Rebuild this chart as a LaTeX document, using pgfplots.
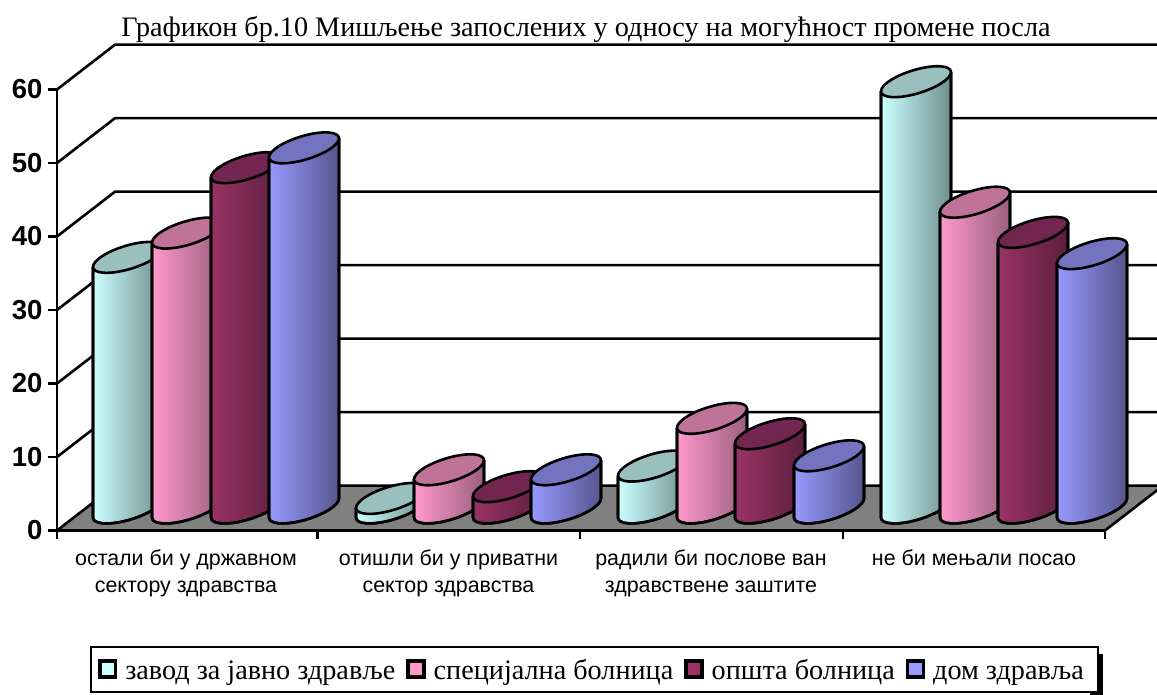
\documentclass[border=0pt]{standalone}
\usepackage{pgfplots}
\usepackage{pgfplotstable}
\pgfplotsset{compat=1.18}
\usepackage{fontspec}
\setmainfont{Liberation Serif}
\newfontfamily\arial{Liberation Sans}

\definecolor{tealL}{HTML}{CCFFFF}\definecolor{tealR}{HTML}{6F8E8E}\definecolor{tealT}{HTML}{99BFBF}
\definecolor{pinkL}{HTML}{FF99CC}\definecolor{pinkR}{HTML}{9A5F7E}\definecolor{pinkT}{HTML}{BF7399}
\definecolor{marL}{HTML}{993366}\definecolor{marR}{HTML}{5C1F3D}\definecolor{marT}{HTML}{732650}
\definecolor{bluL}{HTML}{9999FF}\definecolor{bluR}{HTML}{55558E}\definecolor{bluT}{HTML}{7373BF}

\pgfplotstableread{
x v
128 34.1
391 1.3
653 5.7
916 58.0
}\seriesA
\pgfplotstableread{
x v
187 37.4
449 5.2
712 12.2
975 41.6
}\seriesB
\pgfplotstableread{
x v
246 46.3
508 2.9
770 10.1
1033 37.5
}\seriesC
\pgfplotstableread{
x v
304 49.0
566 5.2
829 7.1
1092 34.6
}\seriesD

\pgfdeclareplotmark{nothing}{}
\newcommand\bodypath{%
  (-35pt,-9.5pt+\Yt) -- (-35pt,-9.5pt+\Yb)
  .. controls (-35pt,-16.24pt+\Yb) and (-19.33pt,-17.45pt+\Yb) .. (0pt,-12.2pt+\Yb)
  .. controls (19.33pt,-6.95pt+\Yb) and (35pt,2.76pt+\Yb) .. (35pt,9.5pt+\Yb)
  -- (35pt,9.5pt+\Yt)}
\newcommand\drawcyl[3]{%
  \pgfmathsetlengthmacro\Yt{22.5pt}%
  \pgfmathsetlengthmacro\Yb{22.5pt-\val*7.35pt}%
  \begin{scope}[line width=2.6pt,line join=round]
    \shade[left color=#1,right color=#2] \bodypath -- cycle;
    \draw \bodypath;
    \filldraw[fill=#3] (35pt,9.5pt+\Yt)
      .. controls (35pt,16.24pt+\Yt) and (19.33pt,17.45pt+\Yt) .. (0pt,12.2pt+\Yt)
      .. controls (-19.33pt,6.95pt+\Yt) and (-35pt,-2.76pt+\Yt) .. (-35pt,-9.5pt+\Yt)
      .. controls (-35pt,-16.24pt+\Yt) and (-19.33pt,-17.45pt+\Yt) .. (0pt,-12.2pt+\Yt)
      .. controls (19.33pt,-6.95pt+\Yt) and (35pt,2.76pt+\Yt) .. (35pt,9.5pt+\Yt) -- cycle;
  \end{scope}}

\pgfplotsset{cyl/.style n args={3}{only marks,mark=nothing,scatter,forget plot,
  visualization depends on=rawy \as \val,
  scatter/@pre marker code/.code={\drawcyl{#1}{#2}{#3}},
  scatter/@post marker code/.code={}}}

\begin{document}
\begin{tikzpicture}
\useasboundingbox (0,0) rectangle (1157pt,695pt);
\begin{axis}[
  at={(57pt,164.5pt)},anchor=south west,
  scale only axis,width=1048pt,height=441pt,
  xmin=57,xmax=1105,ymin=0,ymax=60,clip=false,
  axis x line*=bottom,axis y line*=left,
  axis line style={line width=2.7pt,black},
  tick style={line width=2.4pt,black},
  tick align=outside,major tick length=9pt,
  ytick={0,10,...,60},
  xtick={57,317.5,580,843,1105},
  xticklabels={},
  extra x ticks={186,448.5,711,974},
  extra x tick labels={{остали би у државном\\сектору здравства},{отишли би у приватни\\сектор здравства},{радили би послове ван\\здравствене заштите},{не би мењали посао\\\strut}},
  extra x tick style={major tick length=0pt,
    xticklabel style={align=center,font=\arial\fontsize{21.4}{27}\selectfont,yshift=-16pt,anchor=north}},
  /pgf/number format/assume math mode=true,
  yticklabel style={font=\arial\bfseries\fontsize{27.5}{29}\selectfont,xshift=-2pt},
  title={Графикон бр.10 Мишљење запослених у односу на могућност промене посла},
  title style={at={(0.5048,1.1395)},anchor=center,font=\fontsize{28.2}{30}\selectfont,yshift=-7pt},
  legend columns=-1,
  legend style={at={(0.0315,-0.3685)},anchor=south west,draw=black,line width=2.2pt,
    fill=white,font=\fontsize{28.2}{30}\selectfont,inner xsep=6pt,inner ysep=9pt,
    /tikz/every even column/.append style={column sep=8.2pt}},
  legend image code/.code={\path (0pt,-7pt) (24pt,9pt);
     \draw[#1,line width=2.4pt,black] (1pt,-8pt) rectangle (18pt,9pt);
     \fill[#1] (2.2pt,-6.8pt) rectangle (16.8pt,7.8pt);},
]
% legend shadow
\addplot[forget plot,draw=none,fill=black] coordinates {(1090,-22.4) (1103,-22.4) (1103,-16.8) (1090,-16.8)} -- cycle;
% floor
\addplot[forget plot,draw=black,line width=2.6pt,fill=black!50] coordinates {(57,0) (115,6.1) (1163,6.1) (1105,0)} -- cycle;
% back-wall grid
\addplot[forget plot,black,line width=2.6pt] coordinates {(57,10) (115,16.1) (1157,16.1)};
\addplot[forget plot,black,line width=2.6pt] coordinates {(57,20) (115,26.1) (1157,26.1)};
\addplot[forget plot,black,line width=2.6pt] coordinates {(57,30) (115,36.1) (1157,36.1)};
\addplot[forget plot,black,line width=2.6pt] coordinates {(57,40) (115,46.1) (1157,46.1)};
\addplot[forget plot,black,line width=2.6pt] coordinates {(57,50) (115,56.1) (1157,56.1)};
\addplot[forget plot,black,line width=2.6pt] coordinates {(57,60) (115,66.1) (1157,66.1)};
% cylinders
\addplot[cyl={tealL}{tealR}{tealT}] table[x=x,y=v] {\seriesA};
\addplot[cyl={pinkL}{pinkR}{pinkT}] table[x=x,y=v] {\seriesB};
\addplot[cyl={marL}{marR}{marT}] table[x=x,y=v] {\seriesC};
\addplot[cyl={bluL}{bluR}{bluT}] table[x=x,y=v] {\seriesD};
\addlegendimage{fill=tealL}\addlegendentry{\strut завод за јавно здравље}
\addlegendimage{fill=pinkL}\addlegendentry{\strut специјална болница}
\addlegendimage{fill=marL}\addlegendentry{\strut општа болница}
\addlegendimage{fill=bluL}\addlegendentry{\strut дом здравља\rule{6pt}{0pt}}
\end{axis}
\end{tikzpicture}
\end{document}
